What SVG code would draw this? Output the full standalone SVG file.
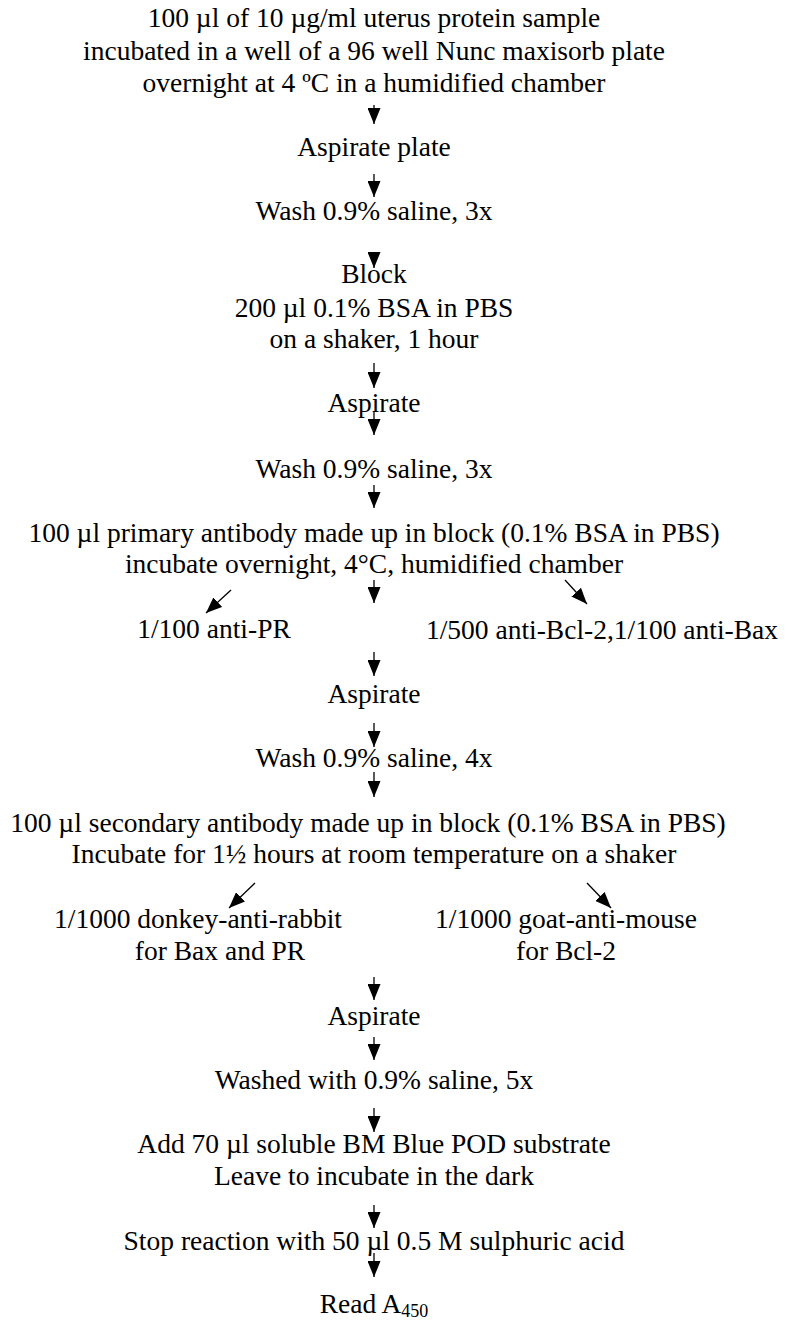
<svg xmlns="http://www.w3.org/2000/svg" width="787" height="1322" viewBox="0 0 787 1322">
<style>
text{font-family:"Liberation Serif","Times New Roman",serif;font-size:27.5px;fill:#000;text-anchor:middle}
.c line{stroke:#000;stroke-width:1.3;fill:none}
</style>
<defs>
<marker id="ah" markerUnits="userSpaceOnUse" viewBox="0 0 16 13" refX="16" refY="6.5" markerWidth="16" markerHeight="13" orient="auto">
<path d="M0,0 L16,6.5 L0,13 z" fill="#000"/>
</marker>
</defs>
<rect width="787" height="1322" fill="#fff"/>
<g id="n1">
<text x="374" y="27">100 µl of 10 µg/ml uterus protein sample</text>
<text x="374" y="60">incubated in a well of a 96 well Nunc maxisorb plate</text>
<text x="374" y="92">overnight at 4 ºC in a humidified chamber</text>
</g>
<g id="n2"><text x="374" y="156">Aspirate plate</text></g>
<g id="n3"><text x="374" y="220">Wash 0.9% saline, 3x</text></g>
<g id="n4">
<text x="374" y="283">Block</text>
<text x="374" y="317">200 µl 0.1% BSA in PBS</text>
<text x="374" y="348">on a shaker, 1 hour</text>
</g>
<g id="n5"><text x="374" y="412">Aspirate</text></g>
<g id="n6"><text x="374" y="478">Wash 0.9% saline, 3x</text></g>
<g id="n7">
<text x="374" y="542">100 µl primary antibody made up in block (0.1% BSA in PBS)</text>
<text x="374" y="573">incubate overnight, 4°C, humidified chamber</text>
</g>
<g id="n8"><text x="214" y="638">1/100 anti-PR</text></g>
<g id="n9"><text x="602" y="639">1/500 anti-Bcl-2,1/100 anti-Bax</text></g>
<g id="n10"><text x="374" y="703">Aspirate</text></g>
<g id="n11"><text x="374" y="767">Wash 0.9% saline, 4x</text></g>
<g id="n12">
<text x="368" y="832">100 µl secondary antibody made up in block (0.1% BSA in PBS)</text>
<text x="374" y="863">Incubate for 1½ hours at room temperature on a shaker</text>
</g>
<g id="n13">
<text x="198" y="928">1/1000 donkey-anti-rabbit</text>
<text x="220" y="960">for Bax and PR</text>
</g>
<g id="n14">
<text x="566" y="928">1/1000 goat-anti-mouse</text>
<text x="566" y="960">for Bcl-2</text>
</g>
<g id="n15"><text x="374" y="1025">Aspirate</text></g>
<g id="n16"><text x="374" y="1089">Washed with 0.9% saline, 5x</text></g>
<g id="n17">
<text x="374" y="1153">Add 70 µl soluble BM Blue POD substrate</text>
<text x="374" y="1185">Leave to incubate in the dark</text>
</g>
<g id="n18"><text x="374" y="1250">Stop reaction with 50 µl 0.5 M sulphuric acid</text></g>
<g id="n19"><text x="374" y="1313">Read A<tspan font-size="18" dy="4">450</tspan></text></g>
<g id="connectors" class="c">
<line x1="374" y1="105" x2="374" y2="124" marker-end="url(#ah)"/>
<line x1="374" y1="174" x2="374" y2="197" marker-end="url(#ah)"/>
<line x1="374" y1="253" x2="374" y2="268" marker-end="url(#ah)"/>
<line x1="374" y1="363" x2="374" y2="388" marker-end="url(#ah)"/>
<line x1="374" y1="411" x2="374" y2="435" marker-end="url(#ah)"/>
<line x1="374" y1="485" x2="374" y2="508" marker-end="url(#ah)"/>
<line x1="374" y1="580" x2="374" y2="603" marker-end="url(#ah)"/>
<line x1="231" y1="590" x2="206" y2="613" marker-end="url(#ah)"/>
<line x1="565" y1="580" x2="587" y2="604" marker-end="url(#ah)"/>
<line x1="374" y1="652" x2="374" y2="676" marker-end="url(#ah)"/>
<line x1="374" y1="723" x2="374" y2="747" marker-end="url(#ah)"/>
<line x1="374" y1="772" x2="374" y2="797" marker-end="url(#ah)"/>
<line x1="255" y1="883" x2="229" y2="908" marker-end="url(#ah)"/>
<line x1="587" y1="883" x2="611" y2="908" marker-end="url(#ah)"/>
<line x1="374" y1="977" x2="374" y2="1000" marker-end="url(#ah)"/>
<line x1="374" y1="1037" x2="374" y2="1060" marker-end="url(#ah)"/>
<line x1="374" y1="1108" x2="374" y2="1132" marker-end="url(#ah)"/>
<line x1="374" y1="1205" x2="374" y2="1228" marker-end="url(#ah)"/>
<line x1="374" y1="1253" x2="374" y2="1277" marker-end="url(#ah)"/>
</g>
</svg>
